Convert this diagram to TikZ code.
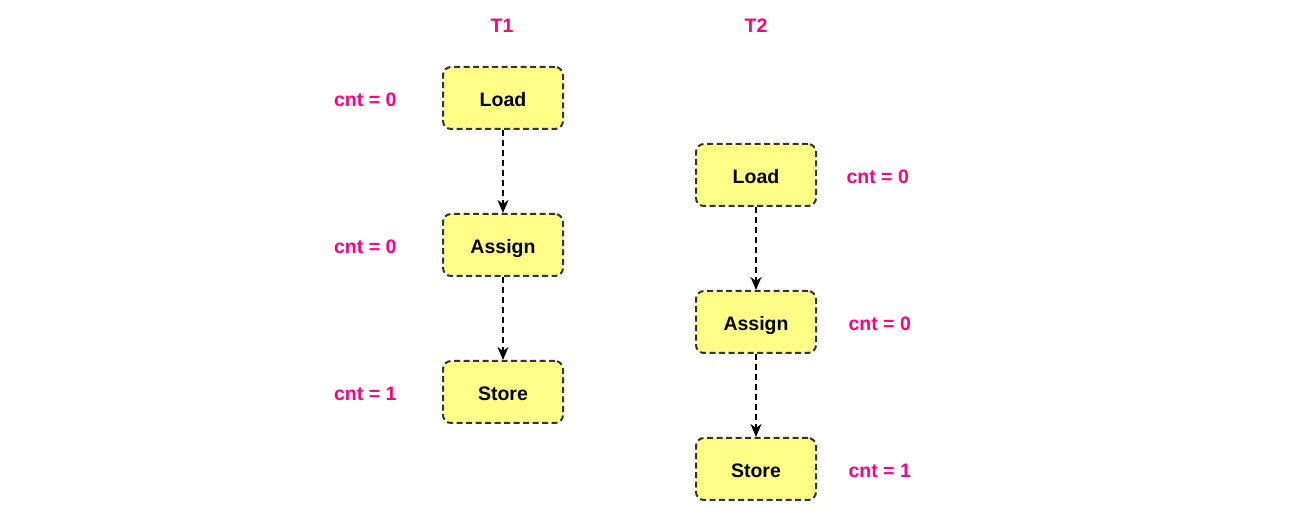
\documentclass[tikz,border=0pt]{standalone}
\usepackage{fontspec}
\setmainfont{Liberation Sans}
\usetikzlibrary{arrows.meta,positioning}
\definecolor{boxfill}{HTML}{FFFF88}
\definecolor{boxline}{HTML}{333333}
\definecolor{cntpink}{HTML}{FF0080}

\begin{document}
\begin{tikzpicture}[x=1pt,y=-1pt,node distance=83pt,font=\fontsize{19.5}{23}\selectfont\bfseries]
\tikzset{
    %Define standard arrow tip
    >={Stealth[length=13pt,width=11pt,inset=4pt]},
    %Define style for boxes
    stepbox/.style={
           rectangle,
           rounded corners=8pt,
           draw=boxline, line width=2pt,
           dash pattern=on 6pt off 3.5pt,
           fill=boxfill,
           text height=18pt, text depth=0pt,
           minimum width=120pt,
           minimum height=62pt},
    % Define style for counter labels
    cntlabel/.style={
           text=cntpink,
           text height=18pt, text depth=0pt},
    % Define arrow style
    pil/.style={
           ->,
           line width=2pt,
           dash pattern=on 6pt off 4pt}
}
	\path[use as bounding box] (0,0) rectangle (1302,510);

 %thread headers
	\node[cntlabel] (hdrA) at (502,24) {T1};
	\node[cntlabel] (hdrB) at (756,24) {T2};

 %thread 1
	\node[stepbox] (loadA) at (503,98) {Load};
	\node[stepbox,below=of loadA] (assignA) {Assign};
	\node[stepbox,below=of assignA] (storeA) {Store};

	\node[cntlabel,left=42pt of loadA] (cntloadA) {cnt = 0};
	\node[cntlabel,left=42pt of assignA] (cntassignA) {cnt = 0};
	\node[cntlabel,left=42pt of storeA] (cntstoreA) {cnt = 1};

 %thread 2
	\node[stepbox] (loadB) at (756,175) {Load};
	\node[stepbox,below=of loadB] (assignB) {Assign};
	\node[stepbox,below=of assignB] (storeB) {Store};

	\node[cntlabel,right=26pt of loadB] (cntloadB) {cnt = 0};
	\node[cntlabel,right=28pt of assignB] (cntassignB) {cnt = 0};
	\node[cntlabel,right=28pt of storeB] (cntstoreB) {cnt = 1};

	\path (loadA.south) edge[pil] (assignA.north);
	\path (assignA.south) edge[pil] (storeA.north);
	\path (loadB.south) edge[pil] (assignB.north);
	\path (assignB.south) edge[pil] (storeB.north);

\end{tikzpicture}
\end{document}
